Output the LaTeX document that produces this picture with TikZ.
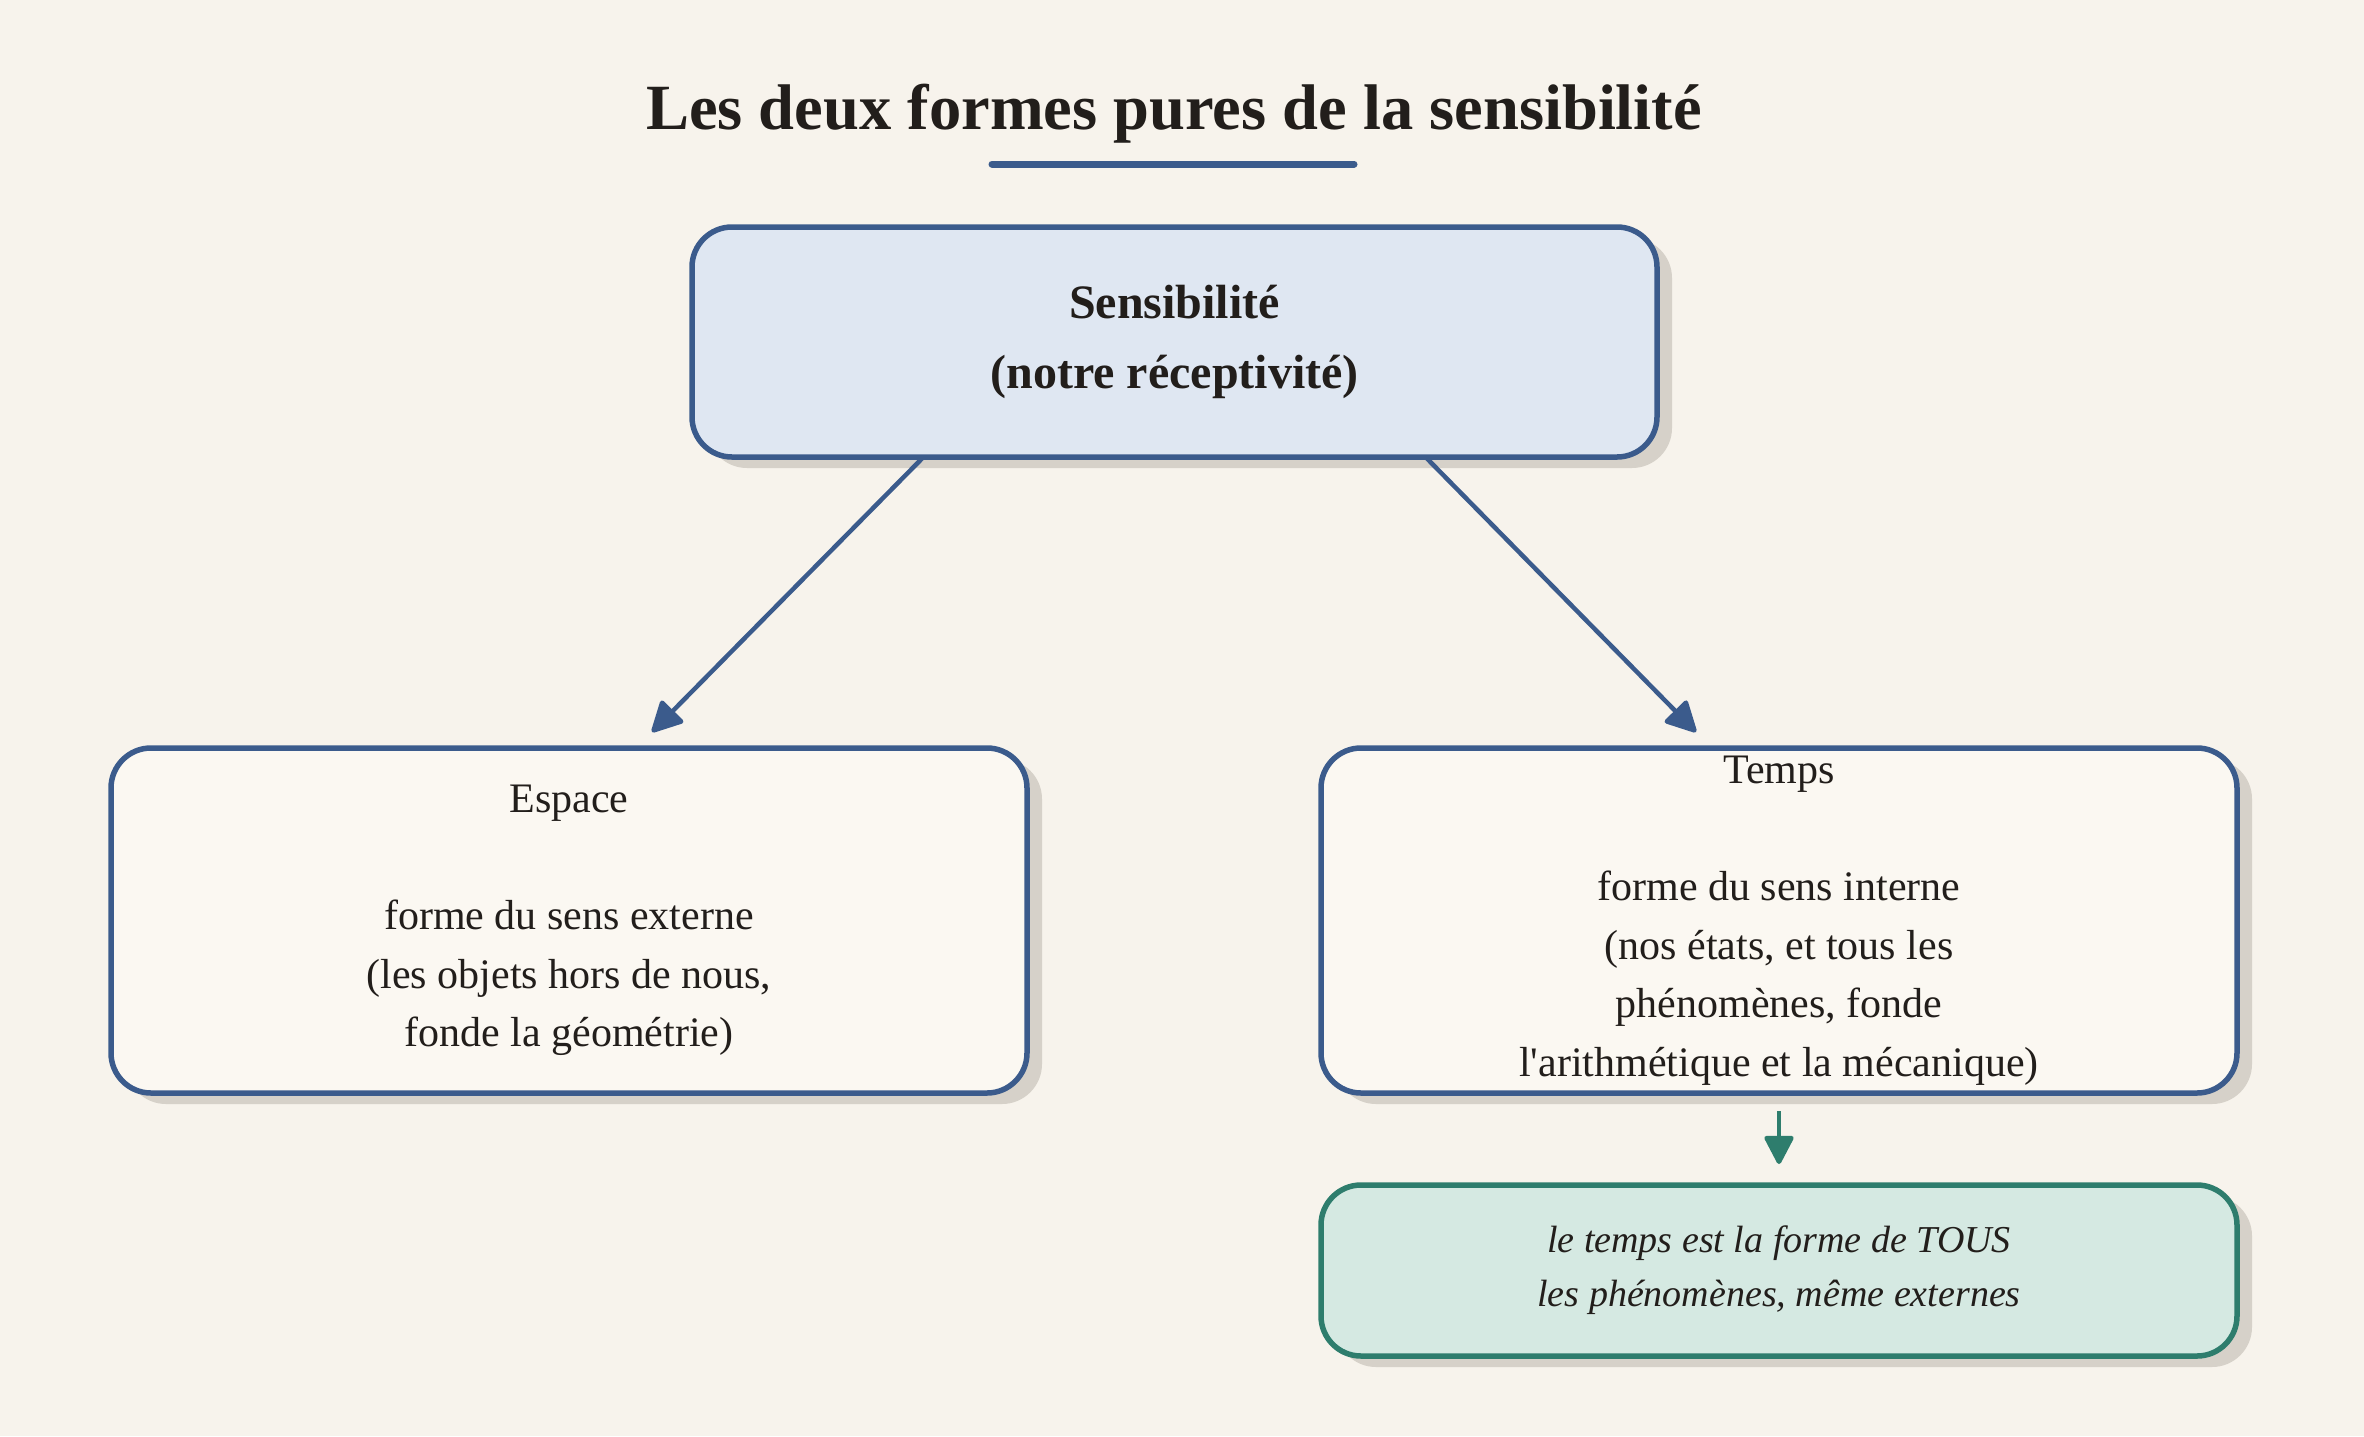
\documentclass[tikz,border=0pt]{standalone}
\usepackage{fontspec}
\setmainfont{Liberation Serif}
\usepackage{tikz}
\usepackage{xcolor}
\usetikzlibrary{arrows.meta,shapes,positioning,shadows,calc}
\definecolor{paper}{RGB}{247,243,236}
\definecolor{inkdark}{RGB}{34,30,27}
\definecolor{kantblue}{RGB}{59,91,140}
\definecolor{sensfill}{RGB}{223,231,242}
\definecolor{formfill}{RGB}{251,248,242}
\definecolor{kantgreen}{RGB}{46,125,109}
\definecolor{notefill}{RGB}{213,233,226}
\definecolor{shadowgray}{RGB}{214,209,201}

\begin{document}
\begin{tikzpicture}[x={(1pt,0pt)}, y={(0pt,-1pt)},
    box/.style={rounded corners=40pt, line width=5.5pt, outer sep=0pt, inner sep=2pt,
      align=center, text=inkdark,
      drop shadow={shadow xshift=15pt, shadow yshift=-11pt, fill=shadowgray, opacity=1}},
    formbox/.style={box, fill=formfill, draw=kantblue, minimum width=916pt, minimum height=345pt,
      font=\fontsize{42}{58.5}\selectfont},
    flow/.style={draw=kantblue, line width=4.5pt, -{Triangle[round, length=33pt, width=33pt]}},
    flowgreen/.style={draw=kantgreen, line width=4.5pt, -{Triangle[round, length=31pt, width=31pt]}}]

  % Background
  \fill[paper] (0,0) rectangle (2364,1436);
  \useasboundingbox (0,0) rectangle (2364,1436);

  % Title
  \node[font=\fontsize{64.5}{70}\selectfont\bfseries, text=inkdark, anchor=base] (title) at (1174,129)
    {Les deux formes pures de la sensibilité};
  \draw[kantblue, line width=7pt, line cap=round] (992,164) -- (1354,164);

  % Sensibility box
  \node[box, fill=sensfill, draw=kantblue, minimum width=965pt, minimum height=230pt,
    font=\fontsize{48}{70}\selectfont\bfseries] (sens) at (1174.5,342)
    {Sensibilité\\(notre réceptivité)};

  % Two forms
  \node[formbox] (espace) at (569,920.5)
    {Espace\\[58.5pt]forme du sens externe\\(les objets hors de nous,\\fonde la géométrie)};
  \node[formbox] (temps) at (1779,920.5)
    {Temps\\[58.5pt]forme du sens interne\\(nos états, et tous les\\phénomènes, fonde\\l\textquotesingle arithmétique et la mécanique)};

  % Consequence
  \node[box, fill=notefill, draw=kantgreen, minimum width=916pt, minimum height=171pt,
    font=\fontsize{38}{54}\selectfont\itshape, below=92pt of temps] (note)
    {le temps est la forme de TOUS\\les phénomènes, même externes};

  % Arrows
  \draw[flow] ([xshift=-251pt]sens.south) -- ([xshift=83pt,yshift=16pt]espace.north);
  \draw[flow] ([xshift=251pt]sens.south) -- ([xshift=-83pt,yshift=16pt]temps.north);
  \draw[flowgreen] ([yshift=-18pt]temps.south) -- ([yshift=21pt]note.north);

\end{tikzpicture}
\end{document}
